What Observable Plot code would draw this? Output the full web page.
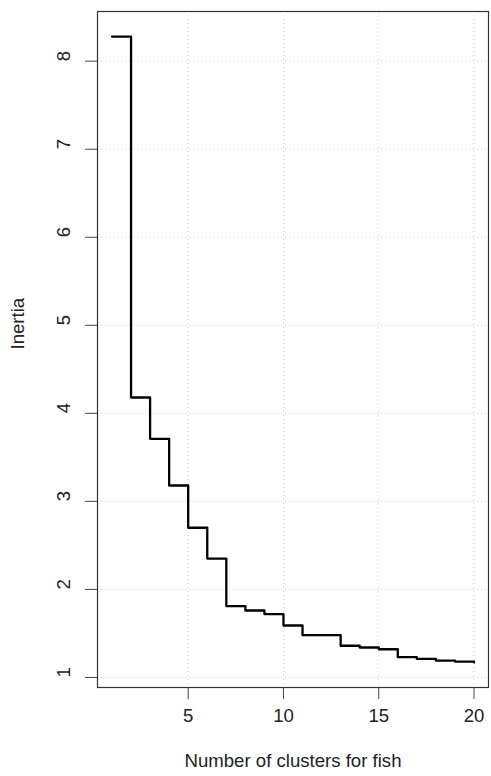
<!DOCTYPE html>
<html>
<head>
<meta charset="utf-8">
<script src="https://cdn.jsdelivr.net/npm/d3@7"></script>
<script src="https://cdn.jsdelivr.net/npm/@observablehq/plot@0.6"></script>
<style>
  html, body { margin: 0; padding: 0; background: #fff; }
  #chart svg { display: block; }
</style>
</head>
<body>
<div id="chart"></div>
<script>
// Data
const clusters = [1, 2, 3, 4, 5, 6, 7, 8, 9, 10, 11, 12, 13, 14, 15, 16, 17, 18, 19, 20];
const inertia = [8.28, 4.18, 3.71, 3.18, 2.70, 2.35, 1.81, 1.76, 1.72, 1.59, 1.48, 1.48, 1.36, 1.34, 1.32, 1.23, 1.21, 1.19, 1.18, 1.17];
const xTicks = [5, 10, 15, 20];
const yTicks = [1, 2, 3, 4, 5, 6, 7, 8];
const xTitle = "Number of clusters for fish";
const yTitle = "Inertia";

const data = clusters.map((k, i) => ({k, v: inertia[i]}));

// R-style 4% padding on each side of the data range
const pad = ([a, b]) => { const r = b - a; return [a - 0.04 * r, b + 0.04 * r]; };
const xDomain = pad(d3.extent(clusters));
const yDomain = pad(d3.extent(inertia));

const font = "Liberation Sans, Arial, Helvetica, sans-serif";
const fs = 18.6;

const chart = Plot.plot({
  width: 491,
  height: 776,
  marginLeft: 97,
  marginRight: 3,
  marginTop: 11,
  marginBottom: 89,
  style: {fontFamily: font, fontSize: fs + "px", background: "#fff", color: "#000"},
  x: {domain: xDomain},
  y: {domain: yDomain},
  marks: [
    Plot.gridX(xTicks, {stroke: "#cfcfcf", strokeOpacity: 1, strokeDasharray: "1.2,2.8"}),
    Plot.gridY(yTicks, {stroke: "#cfcfcf", strokeOpacity: 1, strokeDasharray: "1.2,2.8"}),
    Plot.axisX(xTicks, {tickSize: 12, tickFormat: () => "", label: null, stroke: "#444"}),
    Plot.axisY(yTicks, {tickSize: 12, tickFormat: () => "", label: null, stroke: "#444"}),
    Plot.text(xTicks, {x: d => d, text: d => String(d), frameAnchor: "bottom", dy: 34, fontSize: fs, fill: "#222"}),
    Plot.text(yTicks, {y: d => d, text: d => String(d), frameAnchor: "left", dx: -33, rotate: -90, fontSize: fs, fill: "#222"}),
    Plot.text([xTitle], {frameAnchor: "bottom", dy: 79, fontSize: fs, fill: "#222"}),
    Plot.text([yTitle], {frameAnchor: "left", dx: -79, rotate: -90, fontSize: fs, fill: "#222"}),
    Plot.line(data, {x: "k", y: "v", curve: "step-after", stroke: "#000", strokeWidth: 2.3}),
    Plot.frame({stroke: "#333", strokeWidth: 1.2})
  ]
});

document.getElementById("chart").appendChild(chart);
</script>
</body>
</html>
